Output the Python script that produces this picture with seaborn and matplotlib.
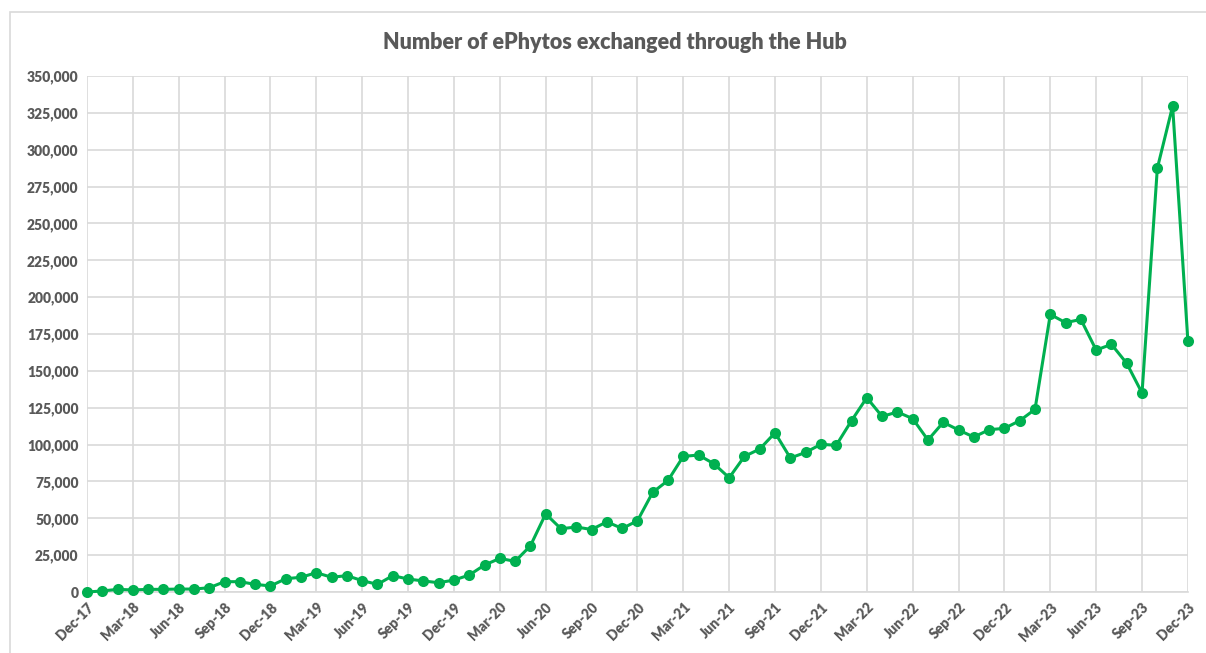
import matplotlib

matplotlib.use("Agg")
import matplotlib.pyplot as plt
import matplotlib.patches as mpatches
import pandas as pd
import seaborn as sns
from matplotlib.ticker import FuncFormatter

# Mois de Dec-17 à Dec-23 (73 points mensuels)
months = pd.date_range("2017-12-01", periods=73, freq="MS")
month_labels = [m.strftime("%b-%y") for m in months]

ephytos = [
    0,
    700, 1800, 1400, 1800, 1800, 2000, 2000, 2900, 7000, 7000, 5200, 4100,
    9000, 10000, 13100, 10000, 11100, 7700, 5200, 11100, 8800, 7500, 6300, 8100,
    11500, 18300, 22800, 20800, 31300, 53000, 42900, 44100, 42400, 47600, 43100, 48300,
    67600, 75700, 92000, 92900, 87000, 77500, 92000, 97000, 108000, 90900, 94700, 100200,
    99500, 116200, 131800, 119100, 122100, 117600, 103100, 115100, 109900, 105100, 110100, 111000,
    116200, 123900, 188300, 182700, 184900, 164100, 168000, 155100, 135000, 287400, 329600, 170000,
]

df = pd.DataFrame({"idx": range(len(ephytos)), "month": month_labels, "count": ephytos})

sns.set_style("whitegrid")
plt.rcParams["font.family"] = ["Lato", "DejaVu Sans"]

TEXT_GREY = "#595959"
GRID_GREY = "#d9d9d9"
GREEN = "#00b050"

fig = plt.figure(figsize=(12.06, 6.53), dpi=100)
ax = fig.add_axes([0.0721, 0.0934, 0.9129, 0.7902])

# cadre extérieur du graphique
fig.patches.append(mpatches.Rectangle((10 / 1206, -0.01), 1.02, 1 - 12 / 653 + 0.01,
                                      transform=fig.transFigure, fill=False,
                                      edgecolor=GRID_GREY, linewidth=1.2))

sns.lineplot(data=df, x="idx", y="count", ax=ax, color=GREEN, linewidth=2.2,
             marker="o", markersize=8, markeredgewidth=0, clip_on=False, zorder=3)

ax.set_xlim(0, len(ephytos) - 1)
ax.set_ylim(0, 350000)
ax.set_yticks(range(0, 350001, 25000))
ax.yaxis.set_major_formatter(FuncFormatter(lambda v, _: f"{int(v):,}"))
tick_pos = list(range(0, len(ephytos), 3))
ax.set_xticks(tick_pos)
ax.set_xticklabels([month_labels[i] for i in tick_pos], rotation=45,
                   ha="right", rotation_mode="anchor")

ax.grid(True, color=GRID_GREY, linewidth=1.2)
for side in ["top", "right", "left"]:
    ax.spines[side].set_visible(False)
ax.spines["bottom"].set_color(GRID_GREY)
ax.spines["bottom"].set_linewidth(1.2)

ax.tick_params(axis="both", length=0, labelsize=10, labelcolor=TEXT_GREY, pad=6)
for lbl in ax.get_xticklabels() + ax.get_yticklabels():
    lbl.set_fontweight("heavy")

ax.set_xlabel("")
ax.set_ylabel("")
fig.text(0.51, 0.935, "Number of ePhytos exchanged through the Hub",
         ha="center", va="center", fontsize=15.5, fontweight="heavy", color=TEXT_GREY)

plt.savefig("out.png", dpi=100)
plt.close(fig)
